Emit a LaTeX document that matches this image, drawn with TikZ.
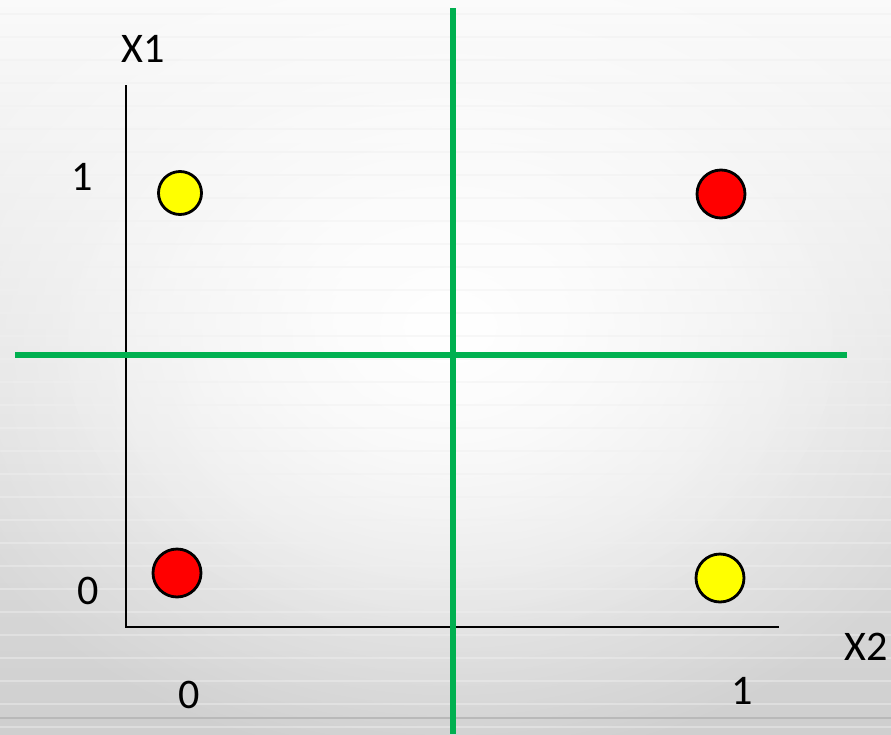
\documentclass[tikz,border=0pt]{standalone}
\usepackage{fontspec}
\setmainfont{Carlito}
\usetikzlibrary{fadings}
\definecolor{cutgreen}{RGB}{0, 176, 80}
\definecolor{dotred}{RGB}{255, 0, 0}
\definecolor{dotyellow}{RGB}{255, 255, 0}
\tikzfading[name=glow, inner color=transparent!0, outer color=transparent!100]
\tikzset{
    xordot/.style={circle, draw=black, line width=1.6pt, minimum size=0.96cm, inner sep=0pt},
    lbl/.style={font=\fontsize{24}{28}\selectfont, inner sep=0pt},
    axisline/.style={line width=1.6pt, black},
    cutline/.style={line width=3.4pt, cutgreen},
}
\begin{document}
\begin{tikzpicture}[x=0.02cm, y=-0.02cm]
    \useasboundingbox (0,0) rectangle (891,734);
    % background
    \shade[top color=gray!4, bottom color=gray!38] (0,0) rectangle (891,734);
    \fill[white, path fading=glow] (450,330) ellipse (560 and 440);
    \fill[white, path fading=glow, fill opacity=0.6] (450,330) ellipse (420 and 320);
    \foreach \y in {14,37,...,734}
        \draw[black!6, opacity=0.45, line width=0.6pt] (0,\y) -- (891,\y);
    \draw[gray!55, line width=1pt] (0,718) -- (891,718);
    % axes
    \coordinate (ytop) at (126,85);
    \coordinate (origin) at (126,627);
    \coordinate (xend) at (779,627);
    \draw[axisline] (ytop) -- (origin) -- (xend);
    \node[lbl] (x1) at (143,49) {X1};
    \node[lbl] (x2) at (866,647) {X2};
    \node[lbl] (y1) at (82,177) {1};
    \node[lbl] (y0) at (88,591) {0};
    \node[lbl] (t0) at (189,695) {0};
    \node[lbl] (t1) at (742,691) {1};
    % separating lines
    \coordinate (vtop) at (453,8);
    \coordinate (vbot) at (453,734);
    \coordinate (hleft) at (15,355);
    \coordinate (hright) at (847,355);
    \draw[cutline] (vtop) -- (vbot);
    \draw[cutline] (hleft) -- (hright);
    % points
    \node[xordot, fill=dotyellow, minimum size=0.86cm] (p01) at (180,193) {};
    \node[xordot, fill=dotred] (p11) at (721,194) {};
    \node[xordot, fill=dotred] (p00) at (177,573) {};
    \node[xordot, fill=dotyellow] (p10) at (720,578) {};
\end{tikzpicture}
\end{document}
